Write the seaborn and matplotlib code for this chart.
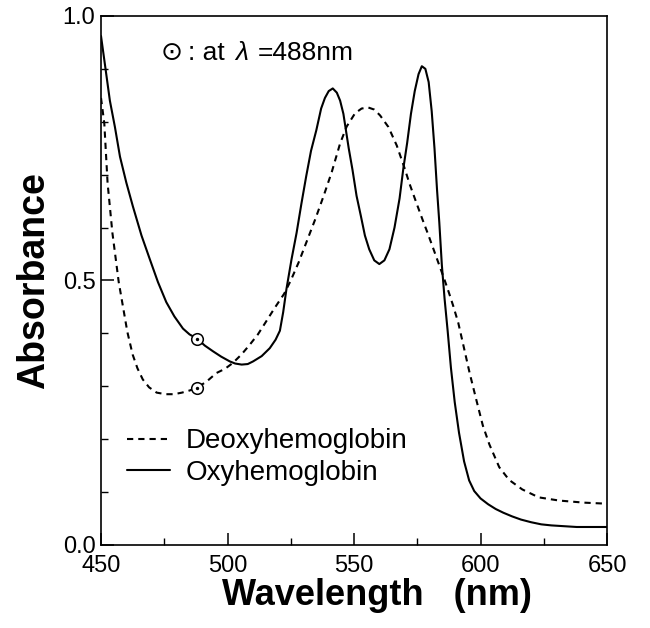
import numpy as np
import pandas as pd
import matplotlib
matplotlib.use("Agg")
import matplotlib.pyplot as plt
from matplotlib.ticker import MultipleLocator, FormatStrFormatter
import seaborn as sns

# values
oxy_nm = [450, 451.5, 453.5, 455.5, 457.5, 460, 462.6, 466, 469.3, 472.5, 475.8, 479,
          482.4, 485, 488, 491, 494.3, 497.5, 500.9, 503, 505.6, 508, 510.1, 513.5,
          516.7, 519, 520.7, 522, 523.3, 525.3, 527.3, 529.2, 531.1, 533, 535.1, 537,
          538.5, 540, 541.6, 543.2, 544.5, 545.8, 546.8, 547.9, 549.4, 551, 552.7, 554.3,
          556, 558, 560, 562, 564, 566, 568, 569.5, 571, 572.5, 574, 575.5, 576.8, 578.2,
          579.5, 580.7, 581.8, 582.8, 583.7, 584.7, 585.8, 587, 588.3, 589.8, 591.5,
          593.5, 595.5, 597.5, 600, 603, 606, 609, 612.5, 616, 620, 624, 628, 638, 650]
oxy_abs = [0.962, 0.91, 0.84, 0.79, 0.734, 0.685, 0.64, 0.585, 0.54, 0.497, 0.459, 0.432,
           0.409, 0.398, 0.39, 0.377, 0.366, 0.356, 0.347, 0.343, 0.341, 0.342, 0.347,
           0.357, 0.372, 0.388, 0.405, 0.44, 0.484, 0.54, 0.59, 0.645, 0.697, 0.745,
           0.784, 0.825, 0.845, 0.858, 0.863, 0.855, 0.84, 0.815, 0.784, 0.75, 0.709,
           0.66, 0.622, 0.585, 0.559, 0.538, 0.531, 0.538, 0.559, 0.6, 0.655, 0.712, 0.76,
           0.815, 0.858, 0.89, 0.905, 0.9, 0.875, 0.82, 0.75, 0.672, 0.61, 0.53, 0.465,
           0.405, 0.335, 0.27, 0.212, 0.158, 0.122, 0.102, 0.088, 0.077, 0.068, 0.061,
           0.054, 0.048, 0.043, 0.039, 0.037, 0.034, 0.034]

deoxy_nm = [450, 451.3, 452.6, 454.5, 457, 460.4, 462.5, 464.4, 466.5, 469, 472, 475.5,
            478.8, 482, 485, 488, 492, 495.6, 499, 502.1, 505.5, 508.7, 512, 515.2, 518.5,
            522.4, 525, 528.1, 531, 534.7, 538, 541.2, 544.5, 547.1, 550.4, 553, 555.6,
            558, 560.3, 563.6, 566.9, 570, 572, 574.4, 577, 579.3, 581.5, 583.3, 585.5,
            587.5, 589.2, 591.2, 593.1, 595.7, 598.3, 600.9, 603.5, 607.4, 611.3, 616.5,
            623, 631, 641, 650]
deoxy_abs = [0.845, 0.797, 0.684, 0.59, 0.497, 0.403, 0.36, 0.334, 0.313, 0.298, 0.288,
             0.285, 0.285, 0.288, 0.292, 0.297, 0.31, 0.325, 0.333, 0.344, 0.36, 0.378,
             0.398, 0.422, 0.447, 0.475, 0.5, 0.534, 0.57, 0.616, 0.66, 0.705, 0.759,
             0.791, 0.816, 0.825, 0.827, 0.823, 0.812, 0.79, 0.755, 0.712, 0.682, 0.65,
             0.616, 0.587, 0.558, 0.534, 0.505, 0.477, 0.452, 0.42, 0.38, 0.325, 0.275,
             0.226, 0.19, 0.147, 0.123, 0.105, 0.09, 0.084, 0.08, 0.078]

mark_nm = [488, 488]
mark_abs = [0.39, 0.297]

df = pd.concat([
    pd.DataFrame({"nm": deoxy_nm, "A": deoxy_abs, "kind": "Deoxyhemoglobin"}),
    pd.DataFrame({"nm": oxy_nm, "A": oxy_abs, "kind": "Oxyhemoglobin"}),
])

sns.set_style("ticks")
plt.rcParams["font.family"] = ["Liberation Sans", "DejaVu Sans"]
plt.rcParams["text.color"] = "black"
plt.rcParams["axes.labelcolor"] = "black"
plt.rcParams["xtick.color"] = "black"
plt.rcParams["ytick.color"] = "black"

fig = plt.figure(figsize=(6.5, 6.28), dpi=100)
ax = fig.add_axes([0.1554, 0.1322, 0.7785, 0.8424])

sns.lineplot(data=df, x="nm", y="A", style="kind", color="black", linewidth=1.5,
             dashes={"Deoxyhemoglobin": (3, 2.4), "Oxyhemoglobin": ""},
             sort=False, ax=ax)
sns.scatterplot(x=mark_nm, y=mark_abs, s=70, facecolor="white", edgecolor="black",
                linewidth=1.1, zorder=3, ax=ax)
sns.scatterplot(x=mark_nm, y=mark_abs, s=6, color="black", linewidth=0, zorder=4, ax=ax)

ax.set_xlim(450, 650)
ax.set_ylim(0, 1.0)
ax.xaxis.set_major_locator(MultipleLocator(50))
ax.xaxis.set_minor_locator(MultipleLocator(25))
ax.yaxis.set_major_locator(MultipleLocator(0.5))
ax.yaxis.set_minor_locator(MultipleLocator(0.1))
ax.yaxis.set_major_formatter(FormatStrFormatter("%.1f"))
ax.tick_params(which="both", direction="in", labelsize=17, color="black", labelcolor="black")
ax.tick_params(which="major", length=9, width=1.1)
ax.tick_params(axis="x", which="major", pad=7)
ax.tick_params(axis="y", which="major", pad=4)
ax.tick_params(which="minor", length=5, width=1.0)
for sp in ax.spines.values():
    sp.set_linewidth(1.2)
    sp.set_color("black")

ax.set_xlabel("Wavelength   (nm)", fontsize=26, fontweight="bold", labelpad=2)
ax.xaxis.set_label_coords(0.545, -0.062, transform=ax.transAxes)
ax.xaxis.label.set_va("top")
ax.set_ylabel("Absorbance", fontsize=27, fontweight="bold", labelpad=8)

# "⊙ : at λ =488nm" note
ax.text(477.9, 0.93, "\u2299", fontsize=19, family="DejaVu Sans", va="center", ha="center")
ax.text(484.3, 0.93, ": at", fontsize=19, va="center", ha="left")
ax.text(503.0, 0.93, "\u03bb", fontsize=19, style="italic", va="center", ha="left")
ax.text(511.8, 0.93, "=488nm", fontsize=19, va="center", ha="left")

handles, labels = ax.get_legend_handles_labels()
ax.legend(handles[:2], labels[:2], loc="center left", bbox_to_anchor=(0.052, 0.166),
          frameon=False, fontsize=20, handlelength=1.55, handletextpad=0.55,
          labelspacing=0.2, borderpad=0, borderaxespad=0)

fig.savefig("out.png", dpi=100)
